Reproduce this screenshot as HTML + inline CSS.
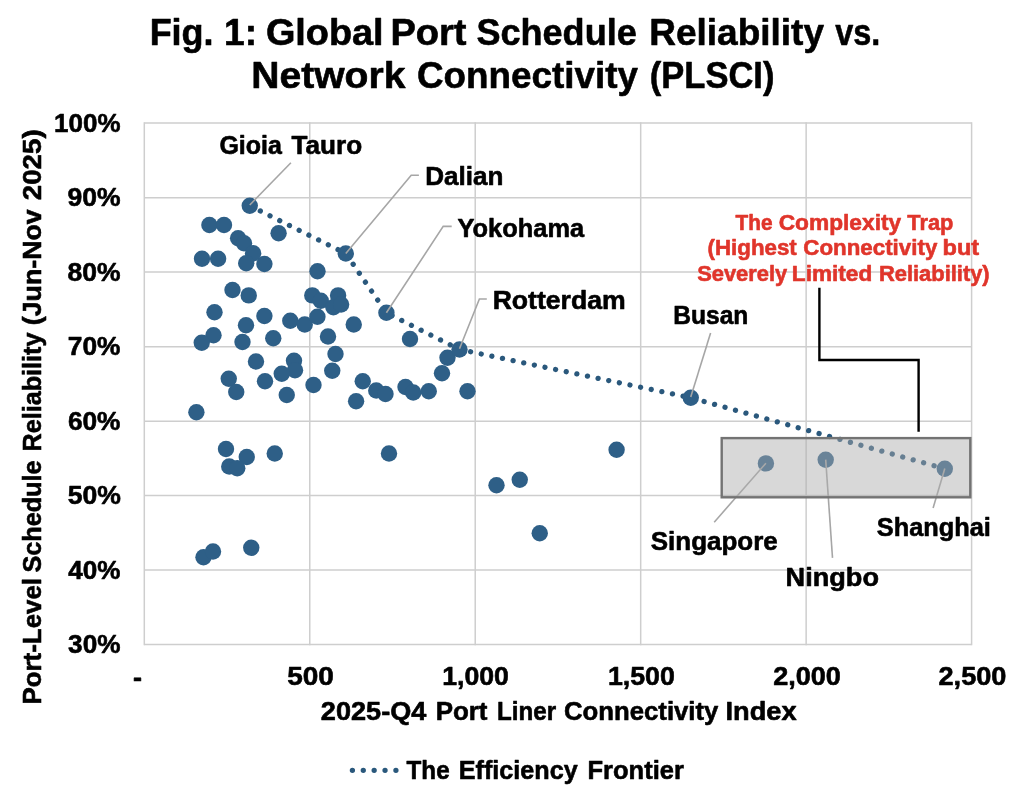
<!DOCTYPE html>
<html lang="en"><head><meta charset="utf-8"><title>Fig. 1: Global Port Schedule Reliability vs. Network Connectivity (PLSCI)</title>
<style>html,body{margin:0;padding:0;background:#fff}body{width:1024px;height:799px;overflow:hidden}svg{display:block}text{font-family:'Liberation Sans', sans-serif;font-weight:bold;fill:#000;stroke:#000;stroke-width:.6px;stroke-linejoin:round}</style></head><body>
<svg width="1024" height="799" viewBox="0 0 1024 799">
<rect width="1024" height="799" fill="#fff"/>
<text y="44.90" font-size="37.2"><tspan x="149.64" textLength="63.98" lengthAdjust="spacingAndGlyphs">Fig.</tspan> <tspan x="224.12" textLength="33.04" lengthAdjust="spacingAndGlyphs">1:</tspan> <tspan x="265.90" textLength="117.72" lengthAdjust="spacingAndGlyphs">Global</tspan> <tspan x="390.42" textLength="76.14" lengthAdjust="spacingAndGlyphs">Port</tspan> <tspan x="476.52" textLength="160.18" lengthAdjust="spacingAndGlyphs">Schedule</tspan> <tspan x="649.22" textLength="174.78" lengthAdjust="spacingAndGlyphs">Reliability</tspan> <tspan x="835.13" textLength="45.13" lengthAdjust="spacingAndGlyphs">vs.</tspan></text>
<text y="88.40" font-size="37.2"><tspan x="251.20" textLength="154.24" lengthAdjust="spacingAndGlyphs">Network</tspan> <tspan x="417.00" textLength="220.99" lengthAdjust="spacingAndGlyphs">Connectivity</tspan> <tspan x="649.85" textLength="124.56" lengthAdjust="spacingAndGlyphs">(PLSCI)</tspan></text>
<g stroke="#CECECE" stroke-width="1.5" fill="none">
<line x1="144.30" y1="123.00" x2="971.60" y2="123.00"/>
<line x1="144.30" y1="197.70" x2="971.60" y2="197.70"/>
<line x1="144.30" y1="272.00" x2="971.60" y2="272.00"/>
<line x1="144.30" y1="346.80" x2="971.60" y2="346.80"/>
<line x1="144.30" y1="421.20" x2="971.60" y2="421.20"/>
<line x1="144.30" y1="495.50" x2="971.60" y2="495.50"/>
<line x1="144.30" y1="570.00" x2="971.60" y2="570.00"/>
<line x1="144.30" y1="644.45" x2="971.60" y2="644.45"/>
<line x1="144.30" y1="122.25" x2="144.30" y2="645.20"/>
<line x1="309.76" y1="122.25" x2="309.76" y2="645.20"/>
<line x1="475.22" y1="122.25" x2="475.22" y2="645.20"/>
<line x1="640.68" y1="122.25" x2="640.68" y2="645.20"/>
<line x1="806.14" y1="122.25" x2="806.14" y2="645.20"/>
<line x1="971.60" y1="122.25" x2="971.60" y2="645.20"/>
</g>
<text y="132.00" font-size="26.4"><tspan x="54.12" textLength="66.35" lengthAdjust="spacingAndGlyphs">100%</tspan></text>
<text y="206.30" font-size="26.4"><tspan x="67.42" textLength="53.07" lengthAdjust="spacingAndGlyphs">90%</tspan></text>
<text y="280.60" font-size="26.4"><tspan x="67.48" textLength="53.02" lengthAdjust="spacingAndGlyphs">80%</tspan></text>
<text y="355.40" font-size="26.4"><tspan x="67.78" textLength="52.69" lengthAdjust="spacingAndGlyphs">70%</tspan></text>
<text y="429.80" font-size="26.4"><tspan x="67.88" textLength="52.60" lengthAdjust="spacingAndGlyphs">60%</tspan></text>
<text y="504.10" font-size="26.4"><tspan x="67.71" textLength="53.20" lengthAdjust="spacingAndGlyphs">50%</tspan></text>
<text y="578.60" font-size="26.4"><tspan x="68.30" textLength="52.19" lengthAdjust="spacingAndGlyphs">40%</tspan></text>
<text y="653.45" font-size="26.4"><tspan x="68.10" textLength="52.41" lengthAdjust="spacingAndGlyphs">30%</tspan></text>
<text y="685.60" font-size="26.4"><tspan x="132.93" textLength="9.00" lengthAdjust="spacingAndGlyphs">-</tspan></text>
<text y="685.10" font-size="26.4"><tspan x="287.19" textLength="46.71" lengthAdjust="spacingAndGlyphs">500</tspan></text>
<text y="685.10" font-size="26.4"><tspan x="442.23" textLength="66.66" lengthAdjust="spacingAndGlyphs">1,000</tspan></text>
<text y="685.10" font-size="26.4"><tspan x="607.94" textLength="66.92" lengthAdjust="spacingAndGlyphs">1,500</tspan></text>
<text y="685.10" font-size="26.4"><tspan x="773.22" textLength="67.70" lengthAdjust="spacingAndGlyphs">2,000</tspan></text>
<text y="685.10" font-size="26.4"><tspan x="938.50" textLength="67.91" lengthAdjust="spacingAndGlyphs">2,500</tspan></text>
<text y="720.40" font-size="25.8"><tspan x="320.89" textLength="105.49" lengthAdjust="spacingAndGlyphs">2025-Q4</tspan> <tspan x="435.67" textLength="51.84" lengthAdjust="spacingAndGlyphs">Port</tspan> <tspan x="497.07" textLength="59.10" lengthAdjust="spacingAndGlyphs">Liner</tspan> <tspan x="564.00" textLength="154.39" lengthAdjust="spacingAndGlyphs">Connectivity</tspan> <tspan x="725.44" textLength="71.13" lengthAdjust="spacingAndGlyphs">Index</tspan></text>
<text transform="translate(41.30 710.00) rotate(-90)" y="0" font-size="25.8"><tspan x="5.45" textLength="126.58" lengthAdjust="spacingAndGlyphs">Port-Level</tspan> <tspan x="137.42" textLength="112.15" lengthAdjust="spacingAndGlyphs">Schedule</tspan> <tspan x="258.53" textLength="118.89" lengthAdjust="spacingAndGlyphs">Reliability</tspan> <tspan x="384.87" textLength="115.80" lengthAdjust="spacingAndGlyphs">(Jun-Nov</tspan> <tspan x="509.78" textLength="70.87" lengthAdjust="spacingAndGlyphs">2025)</tspan></text>
<polyline points="249.75,205.70 345.80,253.50 386.40,312.80 459.50,349.45 690.75,397.70 944.80,468.70" fill="none" stroke="#2A587C" stroke-width="5.3" stroke-linecap="round" stroke-linejoin="round" stroke-dasharray="0.01 10.843" stroke-dashoffset="-0.94"/>
<g fill="#2E5F87">
<circle cx="209.40" cy="224.95" r="8.2"/>
<circle cx="224.00" cy="224.95" r="8.2"/>
<circle cx="238.10" cy="238.20" r="8.2"/>
<circle cx="244.00" cy="243.20" r="8.2"/>
<circle cx="278.60" cy="233.20" r="8.2"/>
<circle cx="253.10" cy="253.20" r="8.2"/>
<circle cx="202.00" cy="258.70" r="8.2"/>
<circle cx="218.10" cy="258.70" r="8.2"/>
<circle cx="246.20" cy="263.20" r="8.2"/>
<circle cx="264.40" cy="263.95" r="8.2"/>
<circle cx="317.50" cy="271.20" r="8.2"/>
<circle cx="232.50" cy="289.95" r="8.2"/>
<circle cx="248.75" cy="295.40" r="8.2"/>
<circle cx="312.30" cy="295.40" r="8.2"/>
<circle cx="320.80" cy="300.70" r="8.2"/>
<circle cx="338.10" cy="295.40" r="8.2"/>
<circle cx="333.40" cy="307.30" r="8.2"/>
<circle cx="341.10" cy="304.45" r="8.2"/>
<circle cx="214.50" cy="312.20" r="8.2"/>
<circle cx="264.40" cy="316.00" r="8.2"/>
<circle cx="246.00" cy="325.20" r="8.2"/>
<circle cx="290.30" cy="320.70" r="8.2"/>
<circle cx="304.75" cy="324.45" r="8.2"/>
<circle cx="317.40" cy="316.70" r="8.2"/>
<circle cx="353.75" cy="324.45" r="8.2"/>
<circle cx="213.50" cy="335.20" r="8.2"/>
<circle cx="201.75" cy="342.70" r="8.2"/>
<circle cx="242.50" cy="341.95" r="8.2"/>
<circle cx="273.25" cy="338.20" r="8.2"/>
<circle cx="328.00" cy="336.45" r="8.2"/>
<circle cx="335.50" cy="353.95" r="8.2"/>
<circle cx="256.00" cy="361.45" r="8.2"/>
<circle cx="294.00" cy="360.70" r="8.2"/>
<circle cx="295.00" cy="370.20" r="8.2"/>
<circle cx="281.75" cy="373.70" r="8.2"/>
<circle cx="332.25" cy="370.70" r="8.2"/>
<circle cx="228.75" cy="378.70" r="8.2"/>
<circle cx="265.00" cy="381.20" r="8.2"/>
<circle cx="236.25" cy="391.95" r="8.2"/>
<circle cx="313.50" cy="384.95" r="8.2"/>
<circle cx="286.75" cy="394.95" r="8.2"/>
<circle cx="362.75" cy="381.20" r="8.2"/>
<circle cx="376.25" cy="390.45" r="8.2"/>
<circle cx="385.50" cy="393.95" r="8.2"/>
<circle cx="356.10" cy="401.30" r="8.2"/>
<circle cx="196.40" cy="412.30" r="8.2"/>
<circle cx="410.00" cy="338.95" r="8.2"/>
<circle cx="447.50" cy="357.70" r="8.2"/>
<circle cx="442.00" cy="373.20" r="8.2"/>
<circle cx="405.50" cy="386.95" r="8.2"/>
<circle cx="413.25" cy="392.45" r="8.2"/>
<circle cx="428.75" cy="391.20" r="8.2"/>
<circle cx="467.50" cy="391.20" r="8.2"/>
<circle cx="226.00" cy="448.95" r="8.2"/>
<circle cx="246.75" cy="456.95" r="8.2"/>
<circle cx="274.75" cy="453.45" r="8.2"/>
<circle cx="229.25" cy="466.45" r="8.2"/>
<circle cx="237.25" cy="468.20" r="8.2"/>
<circle cx="389.00" cy="453.45" r="8.2"/>
<circle cx="203.50" cy="557.20" r="8.2"/>
<circle cx="213.00" cy="551.45" r="8.2"/>
<circle cx="251.25" cy="547.70" r="8.2"/>
<circle cx="496.50" cy="485.20" r="8.2"/>
<circle cx="519.75" cy="479.70" r="8.2"/>
<circle cx="539.75" cy="533.20" r="8.2"/>
<circle cx="616.60" cy="449.70" r="8.2"/>
<circle cx="249.75" cy="205.70" r="8.2"/>
<circle cx="345.80" cy="253.50" r="8.2"/>
<circle cx="386.40" cy="312.80" r="8.2"/>
<circle cx="459.50" cy="349.45" r="8.2"/>
<circle cx="690.75" cy="397.70" r="8.2"/>
<circle cx="944.80" cy="468.70" r="8.2"/>
<circle cx="765.90" cy="463.40" r="8.2"/>
<circle cx="825.70" cy="459.80" r="8.2"/>
</g>
<g stroke="#A6A6A6" stroke-width="1.6" fill="none">
<polyline points="290.9,162.8 249.75,205"/>
<polyline points="418.9,175.2 411.2,175.2 345.8,253.5"/>
<polyline points="451.7,226.4 443.2,226.4 386.4,312.8"/>
<polyline points="486.8,299 479.4,299 459.5,348.75"/>
<polyline points="710.6,333.1 690.75,397"/>
<polyline points="714.2,522.2 765.9,463.2"/>
<polyline points="832.5,557.9 825.7,459.6"/>
<polyline points="933.1,508.1 944.8,468.5"/>
</g>
<text y="154.10" font-size="25.8"><tspan x="219.44" textLength="62.42" lengthAdjust="spacingAndGlyphs">Gioia</tspan> <tspan x="291.52" textLength="70.61" lengthAdjust="spacingAndGlyphs">Tauro</tspan></text>
<text y="184.80" font-size="25.8"><tspan x="425.17" textLength="78.25" lengthAdjust="spacingAndGlyphs">Dalian</tspan></text>
<text y="236.50" font-size="25.8"><tspan x="457.56" textLength="126.56" lengthAdjust="spacingAndGlyphs">Yokohama</tspan></text>
<text y="308.90" font-size="25.8"><tspan x="492.67" textLength="132.99" lengthAdjust="spacingAndGlyphs">Rotterdam</tspan></text>
<text y="324.30" font-size="25.8"><tspan x="673.26" textLength="75.13" lengthAdjust="spacingAndGlyphs">Busan</tspan></text>
<text y="549.70" font-size="25.8"><tspan x="650.81" textLength="126.99" lengthAdjust="spacingAndGlyphs">Singapore</tspan></text>
<text y="586.10" font-size="25.8"><tspan x="785.64" textLength="93.37" lengthAdjust="spacingAndGlyphs">Ningbo</tspan></text>
<text y="536.00" font-size="25.8"><tspan x="876.73" textLength="114.18" lengthAdjust="spacingAndGlyphs">Shanghai</tspan></text>
<rect x="721.7" y="438.1" width="248.6" height="59.2" fill="#ADADAD" fill-opacity="0.47" stroke="#737373" stroke-width="2.4"/>
<polyline points="819.4,287.8 819.4,360 918.6,360 918.6,431.8" fill="none" stroke="#000" stroke-width="2.4" stroke-linejoin="miter"/>
<text y="229.80" font-size="22.2" style="fill:#E0352B;stroke:#E0352B"><tspan x="735.47" textLength="37.02" lengthAdjust="spacingAndGlyphs">The</tspan> <tspan x="778.71" textLength="122.45" lengthAdjust="spacingAndGlyphs">Complexity</tspan> <tspan x="907.31" textLength="46.02" lengthAdjust="spacingAndGlyphs">Trap</tspan></text>
<text y="254.60" font-size="22.2" style="fill:#E0352B;stroke:#E0352B"><tspan x="707.60" textLength="89.19" lengthAdjust="spacingAndGlyphs">(Highest</tspan> <tspan x="803.32" textLength="133.99" lengthAdjust="spacingAndGlyphs">Connectivity</tspan> <tspan x="942.58" textLength="36.65" lengthAdjust="spacingAndGlyphs">but</tspan></text>
<text y="281.00" font-size="22.2" style="fill:#E0352B;stroke:#E0352B"><tspan x="697.13" textLength="90.06" lengthAdjust="spacingAndGlyphs">Severely</tspan> <tspan x="791.83" textLength="80.38" lengthAdjust="spacingAndGlyphs">Limited</tspan> <tspan x="878.91" textLength="110.75" lengthAdjust="spacingAndGlyphs">Reliability)</tspan></text>
<line x1="352.4" y1="770.3" x2="396.2" y2="770.3" stroke="#2A587C" stroke-width="5.3" stroke-linecap="round" stroke-dasharray="0.01 10.87"/>
<text y="779.10" font-size="25.8"><tspan x="406.56" textLength="43.11" lengthAdjust="spacingAndGlyphs">The</tspan> <tspan x="458.77" textLength="118.93" lengthAdjust="spacingAndGlyphs">Efficiency</tspan> <tspan x="587.55" textLength="96.28" lengthAdjust="spacingAndGlyphs">Frontier</tspan></text>
</svg></body></html>
